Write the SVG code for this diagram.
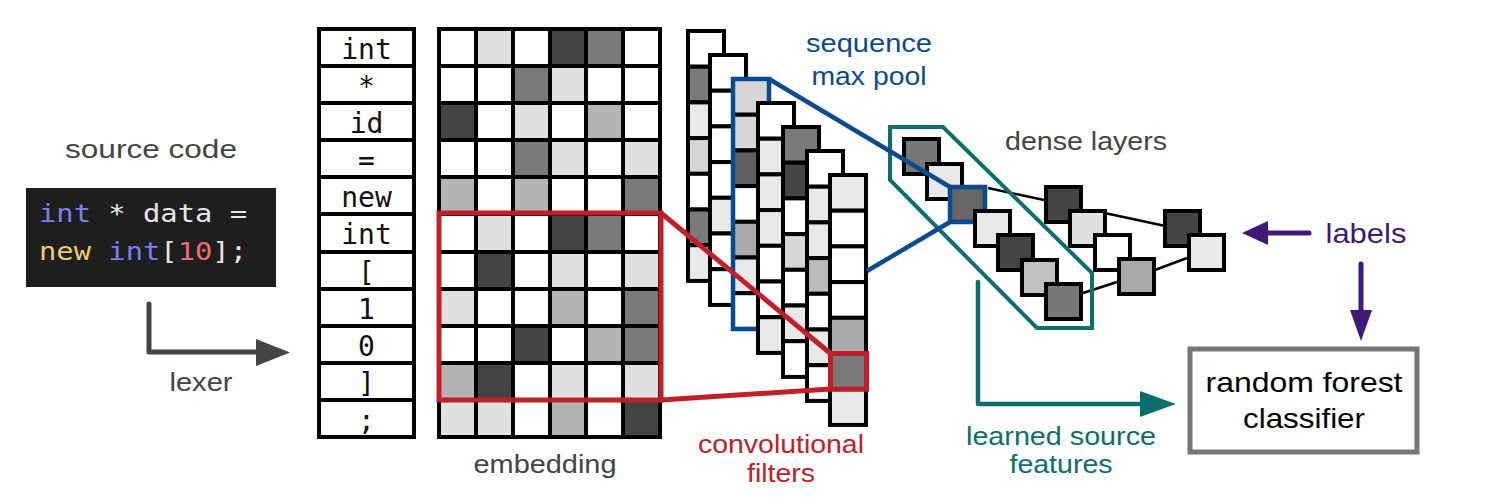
<svg xmlns="http://www.w3.org/2000/svg" width="1507" height="503" viewBox="0 0 1507 503">
<style>
.bg{fill:#fff}
.c{stroke:#000;stroke-width:4}
.w{fill:#fff}.l{fill:#e0e0e0}.m{fill:#b3b3b3}.g{fill:#7a7a7a}.d{fill:#444}
.l2{fill:#e8e8e8}.l3{fill:#d6d6d6}.m2{fill:#aaa}.m3{fill:#bbb}.g2{fill:#606060}.g3{fill:#777}
.sans{font-family:"Liberation Sans",Arial,sans-serif}
.mono{font-family:"DejaVu Sans Mono","Liberation Mono",monospace}
.tok{font-family:"DejaVu Sans Mono","Liberation Mono",monospace;font-size:28px;fill:#111;text-anchor:middle}
.gray{fill:#444}
.ln{fill:none;stroke-linecap:round;stroke-linejoin:round}
</style>
<rect class="bg" x="0" y="0" width="1507" height="503"/>

<g id="source-code">
<text class="sans gray" x="151" y="158" font-size="26" text-anchor="middle" textLength="172" lengthAdjust="spacingAndGlyphs">source code</text>
<rect x="26" y="188" width="250" height="99" fill="#1e1e1e"/>
<text class="mono" x="39" y="222" font-size="24" textLength="208" lengthAdjust="spacingAndGlyphs" fill="#e6e6e6"><tspan fill="#7b7ff5">int</tspan> * data =</text>
<text class="mono" x="39" y="260" font-size="24" textLength="208" lengthAdjust="spacingAndGlyphs" fill="#e6e6e6"><tspan fill="#f2c970">new</tspan> <tspan fill="#7b7ff5">int</tspan>[<tspan fill="#f26b6b">10</tspan>];</text>
</g>

<g id="lexer-label">
<text class="sans gray" x="201" y="391" font-size="26" text-anchor="middle" textLength="63" lengthAdjust="spacingAndGlyphs">lexer</text>
</g>

<g id="tokens">
<rect class="c w" x="319" y="29" width="95" height="37"/>
<rect class="c w" x="319" y="66" width="95" height="37"/>
<rect class="c w" x="319" y="103" width="95" height="37"/>
<rect class="c w" x="319" y="140" width="95" height="37"/>
<rect class="c w" x="319" y="177" width="95" height="37"/>
<rect class="c w" x="319" y="214" width="95" height="38"/>
<rect class="c w" x="319" y="252" width="95" height="37"/>
<rect class="c w" x="319" y="289" width="95" height="37"/>
<rect class="c w" x="319" y="326" width="95" height="37"/>
<rect class="c w" x="319" y="363" width="95" height="37"/>
<rect class="c w" x="319" y="400" width="95" height="37"/>
<text class="tok" x="366.5" y="59">int</text>
<text class="tok" x="366.5" y="96">*</text>
<text class="tok" x="366.5" y="133">id</text>
<text class="tok" x="366.5" y="170">=</text>
<text class="tok" x="366.5" y="207">new</text>
<text class="tok" x="366.5" y="244">int</text>
<text class="tok" x="366.5" y="282">[</text>
<text class="tok" x="366.5" y="319">1</text>
<text class="tok" x="366.5" y="356">0</text>
<text class="tok" x="366.5" y="393">]</text>
<text class="tok" x="366.5" y="430">;</text>
</g>

<g id="embedding">
<rect class="c w" x="439" y="29" width="37" height="37"/><rect class="c l" x="476" y="29" width="37" height="37"/><rect class="c w" x="513" y="29" width="37" height="37"/><rect class="c d" x="550" y="29" width="36" height="37"/><rect class="c g" x="586" y="29" width="37" height="37"/><rect class="c w" x="623" y="29" width="37" height="37"/>
<rect class="c w" x="439" y="66" width="37" height="37"/><rect class="c w" x="476" y="66" width="37" height="37"/><rect class="c g" x="513" y="66" width="37" height="37"/><rect class="c l" x="550" y="66" width="36" height="37"/><rect class="c w" x="586" y="66" width="37" height="37"/><rect class="c w" x="623" y="66" width="37" height="37"/>
<rect class="c d" x="439" y="103" width="37" height="37"/><rect class="c w" x="476" y="103" width="37" height="37"/><rect class="c l" x="513" y="103" width="37" height="37"/><rect class="c w" x="550" y="103" width="36" height="37"/><rect class="c m" x="586" y="103" width="37" height="37"/><rect class="c w" x="623" y="103" width="37" height="37"/>
<rect class="c w" x="439" y="140" width="37" height="37"/><rect class="c w" x="476" y="140" width="37" height="37"/><rect class="c g" x="513" y="140" width="37" height="37"/><rect class="c l" x="550" y="140" width="36" height="37"/><rect class="c w" x="586" y="140" width="37" height="37"/><rect class="c l" x="623" y="140" width="37" height="37"/>
<rect class="c m" x="439" y="177" width="37" height="37"/><rect class="c w" x="476" y="177" width="37" height="37"/><rect class="c m" x="513" y="177" width="37" height="37"/><rect class="c w" x="550" y="177" width="36" height="37"/><rect class="c w" x="586" y="177" width="37" height="37"/><rect class="c g" x="623" y="177" width="37" height="37"/>
<rect class="c w" x="439" y="214" width="37" height="38"/><rect class="c l" x="476" y="214" width="37" height="38"/><rect class="c w" x="513" y="214" width="37" height="38"/><rect class="c d" x="550" y="214" width="36" height="38"/><rect class="c g" x="586" y="214" width="37" height="38"/><rect class="c w" x="623" y="214" width="37" height="38"/>
<rect class="c w" x="439" y="252" width="37" height="37"/><rect class="c d" x="476" y="252" width="37" height="37"/><rect class="c w" x="513" y="252" width="37" height="37"/><rect class="c l" x="550" y="252" width="36" height="37"/><rect class="c w" x="586" y="252" width="37" height="37"/><rect class="c l" x="623" y="252" width="37" height="37"/>
<rect class="c l" x="439" y="289" width="37" height="37"/><rect class="c w" x="476" y="289" width="37" height="37"/><rect class="c w" x="513" y="289" width="37" height="37"/><rect class="c m" x="550" y="289" width="36" height="37"/><rect class="c w" x="586" y="289" width="37" height="37"/><rect class="c g" x="623" y="289" width="37" height="37"/>
<rect class="c w" x="439" y="326" width="37" height="37"/><rect class="c w" x="476" y="326" width="37" height="37"/><rect class="c d" x="513" y="326" width="37" height="37"/><rect class="c w" x="550" y="326" width="36" height="37"/><rect class="c m" x="586" y="326" width="37" height="37"/><rect class="c g" x="623" y="326" width="37" height="37"/>
<rect class="c m" x="439" y="363" width="37" height="37"/><rect class="c d" x="476" y="363" width="37" height="37"/><rect class="c w" x="513" y="363" width="37" height="37"/><rect class="c l" x="550" y="363" width="36" height="37"/><rect class="c w" x="586" y="363" width="37" height="37"/><rect class="c l" x="623" y="363" width="37" height="37"/>
<rect class="c l" x="439" y="400" width="37" height="37"/><rect class="c l" x="476" y="400" width="37" height="37"/><rect class="c w" x="513" y="400" width="37" height="37"/><rect class="c m" x="550" y="400" width="36" height="37"/><rect class="c w" x="586" y="400" width="37" height="37"/><rect class="c d" x="623" y="400" width="37" height="37"/>
<text class="sans gray" x="545" y="473" font-size="26" text-anchor="middle" textLength="143" lengthAdjust="spacingAndGlyphs">embedding</text>
</g>

<g id="filter-window">
<rect x="439" y="213" width="222" height="187" fill="none" stroke="#c0202a" stroke-width="5"/>
</g>

<g id="conv-filters">
<g id="conv-a">
<rect class="c w" x="688" y="31" width="36" height="35.7"/><rect class="c g" x="688" y="66.7" width="36" height="35.7"/><rect class="c l2" x="688" y="102.4" width="36" height="35.7"/><rect class="c l3" x="688" y="138.1" width="36" height="35.7"/><rect class="c w" x="688" y="173.8" width="36" height="35.7"/><rect class="c g" x="688" y="209.5" width="36" height="35.7"/><rect class="c l2" x="688" y="245.2" width="36" height="35.7"/>
</g>
<g id="conv-b">
<rect class="c w" x="710" y="55" width="36" height="35.7"/><rect class="c w" x="710" y="90.7" width="36" height="35.7"/><rect class="c w" x="710" y="126.4" width="36" height="35.7"/><rect class="c w" x="710" y="162.1" width="36" height="35.7"/><rect class="c l2" x="710" y="197.8" width="36" height="35.7"/><rect class="c w" x="710" y="233.5" width="36" height="35.7"/><rect class="c w" x="710" y="269.2" width="36" height="35.7"/>
</g>
<g id="conv-c">
<rect class="c l3" x="733" y="79" width="36" height="35.7"/><rect class="c l3" x="733" y="114.7" width="36" height="35.7"/><rect class="c g2" x="733" y="150.4" width="36" height="35.7"/><rect class="c w" x="733" y="186.1" width="36" height="35.7"/><rect class="c m2" x="733" y="221.8" width="36" height="35.7"/><rect class="c l2" x="733" y="257.5" width="36" height="35.7"/><rect class="c w" x="733" y="293.2" width="36" height="35.7"/>
<rect x="733" y="79" width="36" height="250" fill="none" stroke="#0b4a8c" stroke-width="4.5"/>
</g>
<g id="conv-d">
<rect class="c w" x="758" y="103" width="36" height="35.7"/><rect class="c l2" x="758" y="138.7" width="36" height="35.7"/><rect class="c l2" x="758" y="174.4" width="36" height="35.7"/><rect class="c l2" x="758" y="210.1" width="36" height="35.7"/><rect class="c w" x="758" y="245.8" width="36" height="35.7"/><rect class="c w" x="758" y="281.5" width="36" height="35.7"/><rect class="c l2" x="758" y="317.2" width="36" height="35.7"/>
</g>
<g id="conv-e">
<rect class="c g" x="783" y="127" width="36" height="35.7"/><rect class="c d" x="783" y="162.7" width="36" height="35.7"/><rect class="c w" x="783" y="198.4" width="36" height="35.7"/><rect class="c l3" x="783" y="234.1" width="36" height="35.7"/><rect class="c w" x="783" y="269.8" width="36" height="35.7"/><rect class="c l2" x="783" y="305.5" width="36" height="35.7"/><rect class="c w" x="783" y="341.2" width="36" height="35.7"/>
</g>
<g id="conv-f">
<rect class="c w" x="807" y="151" width="36" height="35.7"/><rect class="c l2" x="807" y="186.7" width="36" height="35.7"/><rect class="c l2" x="807" y="222.4" width="36" height="35.7"/><rect class="c m3" x="807" y="258.1" width="36" height="35.7"/><rect class="c w" x="807" y="293.8" width="36" height="35.7"/><rect class="c l2" x="807" y="329.5" width="36" height="35.7"/><rect class="c w" x="807" y="365.2" width="36" height="35.7"/>
</g>
<g id="conv-g">
<rect class="c l2" x="830" y="175" width="36" height="35.7"/><rect class="c w" x="830" y="210.7" width="36" height="35.7"/><rect class="c w" x="830" y="246.4" width="36" height="35.7"/><rect class="c w" x="830" y="282.1" width="36" height="35.7"/><rect class="c m2" x="830" y="317.8" width="36" height="35.7"/><rect class="c g" x="830" y="353.5" width="36" height="35.7"/><rect class="c l2" x="830" y="389.2" width="36" height="35.7"/>
</g>
<rect x="830.5" y="353.5" width="36" height="35.7" fill="none" stroke="#c0202a" stroke-width="5"/>
<text class="sans" x="781" y="453" font-size="26" fill="#c0202a" text-anchor="middle" textLength="166" lengthAdjust="spacingAndGlyphs">convolutional</text>
<text class="sans" x="781" y="482" font-size="26" fill="#c0202a" text-anchor="middle" textLength="68" lengthAdjust="spacingAndGlyphs">filters</text>
</g>

<g id="max-pool-label">
<text class="sans" x="869" y="52" font-size="26" fill="#0b4a8c" text-anchor="middle" textLength="126" lengthAdjust="spacingAndGlyphs">sequence</text>
<text class="sans" x="869" y="85" font-size="26" fill="#0b4a8c" text-anchor="middle" textLength="115" lengthAdjust="spacingAndGlyphs">max pool</text>
</g>

<g id="dense-layers">
<text class="sans gray" x="1086" y="150" font-size="26" text-anchor="middle" textLength="162" lengthAdjust="spacingAndGlyphs">dense layers</text>
<path d="M988,188 L1044,200 M1107,213.5 L1163,225.5 M1083,293 L1117,282 M1155,270 L1187,258" stroke="#000" stroke-width="2.5" fill="none"/>
<rect class="c g3" x="904" y="139" width="35" height="35"/>
<rect class="c l2" x="927" y="164" width="35" height="35"/>
<rect x="950" y="187" width="35" height="35" fill="#666" stroke="#0b4a8c" stroke-width="4.5"/>
<rect class="c l2" x="975" y="211" width="35" height="35"/>
<rect class="c d" x="998" y="235" width="35" height="35"/>
<rect class="c" x="1022" y="260" width="35" height="35" fill="#c0c0c0"/>
<rect class="c g3" x="1046" y="284" width="35" height="35"/>
<rect class="c d" x="1046" y="187" width="35" height="35"/>
<rect class="c l" x="1070" y="211" width="35" height="35"/>
<rect class="c w" x="1095" y="235" width="35" height="35"/>
<rect class="c m2" x="1119" y="259" width="35" height="35"/>
<rect class="c d" x="1165" y="211" width="35" height="35"/>
<rect class="c l2" x="1189" y="235" width="35" height="35"/>
<polygon points="890,127 943,127 1092,273 1092,328 1037,328 890,180" fill="none" stroke="#0d6e6e" stroke-width="4"/>
</g>

<g id="labels">
<text class="sans" x="1366" y="243" font-size="28" fill="#3d1a78" text-anchor="middle" textLength="81" lengthAdjust="spacingAndGlyphs">labels</text>
</g>

<g id="learned-features">
<text class="sans" x="1061" y="445" font-size="26" fill="#0d6e6e" text-anchor="middle" textLength="190" lengthAdjust="spacingAndGlyphs">learned source</text>
<text class="sans" x="1061" y="473" font-size="26" fill="#0d6e6e" text-anchor="middle" textLength="103" lengthAdjust="spacingAndGlyphs">features</text>
</g>

<g id="random-forest">
<rect x="1190" y="349" width="227" height="103" fill="#fff" stroke="#777" stroke-width="5"/>
<text class="sans" x="1304" y="392" font-size="28" fill="#000" text-anchor="middle" textLength="197" lengthAdjust="spacingAndGlyphs">random forest</text>
<text class="sans" x="1304" y="428" font-size="28" fill="#000" text-anchor="middle" textLength="122" lengthAdjust="spacingAndGlyphs">classifier</text>
</g>

<g id="connectors">
<path class="ln" d="M149,304 V352 H258" stroke="#444" stroke-width="5"/>
<polygon points="256,339 290,352.5 256,366" fill="#444"/>
<line x1="661" y1="213" x2="830.5" y2="353.5" stroke="#c0202a" stroke-width="5"/>
<line x1="661" y1="400" x2="830.5" y2="389" stroke="#c0202a" stroke-width="5"/>
<line x1="769" y1="79" x2="950" y2="187" stroke="#0b4a8c" stroke-width="4.5"/>
<line x1="867" y1="271" x2="950" y2="222" stroke="#0b4a8c" stroke-width="4.5"/>
<path class="ln" d="M978,282 V404 H1142" stroke="#0d6e6e" stroke-width="4.5"/>
<polygon points="1140,391 1176,404 1140,417" fill="#0d6e6e"/>
<line x1="1309" y1="233" x2="1266" y2="233" stroke="#3d1a78" stroke-width="5" stroke-linecap="round"/>
<polygon points="1268,221 1242,233 1268,245" fill="#3d1a78"/>
<line x1="1361" y1="264" x2="1361" y2="312" stroke="#3d1a78" stroke-width="5" stroke-linecap="round"/>
<polygon points="1350,310 1361,341 1372,310" fill="#3d1a78"/>
</g>
</svg>
